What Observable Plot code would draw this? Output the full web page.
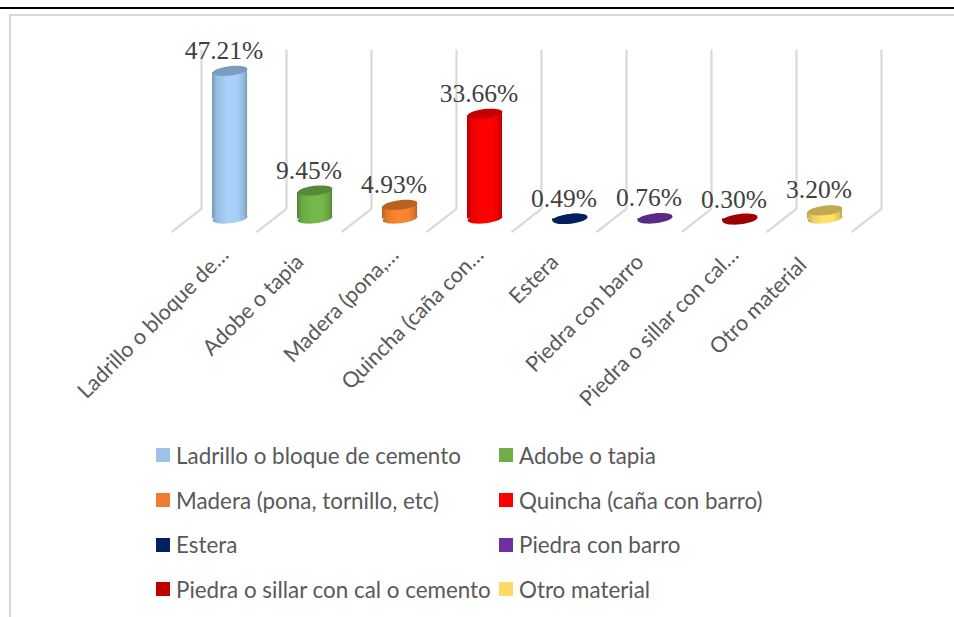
<!DOCTYPE html>
<html>
<head>
<meta charset="utf-8">
<script src="https://cdn.jsdelivr.net/npm/d3@7"></script>
<script src="https://cdn.jsdelivr.net/npm/@observablehq/plot@0.6"></script>
<style>
  html, body { margin: 0; padding: 0; background: #fff; width: 954px; height: 617px; overflow: hidden; }
  #page { position: relative; width: 954px; height: 617px; overflow: hidden; }
  #rule { position: absolute; left: 0; right: 0; top: 7px; height: 2px; background: #000; }
  #frame { position: absolute; left: 9px; top: 14px; width: 1000px; height: 700px; border: 2px solid #d9d9d9; box-sizing: border-box; }
  #chart { position: absolute; left: 0; top: 0; }
  #chart svg { display: block; background: transparent; }
  #legend { position: absolute; left: 156px; top: 433px; display: grid; grid-template-columns: 343px 343px; grid-auto-rows: 44.7px;
            font: 22.4px Lato, sans-serif; color: #595959; }
  .item { display: flex; align-items: center; white-space: nowrap; }
  .sw { width: 14px; height: 14px; margin-right: 6px; flex: none; }
</style>
</head>
<body>
<div id="page">
  <div id="rule"></div>
  <div id="frame"></div>
  <div id="chart"></div>
  <div id="legend"></div>
</div>
<script>
const categories = ["Ladrillo o bloque de cemento", "Adobe o tapia", "Madera (pona, tornillo, etc)", "Quincha (caña con barro)", "Estera", "Piedra con barro", "Piedra o sillar con cal o cemento", "Otro material"];
const axisLabels = ["Ladrillo o bloque de…", "Adobe o tapia", "Madera (pona,…", "Quincha (caña con…", "Estera", "Piedra con barro", "Piedra o sillar con cal…", "Otro material"];
const values = [47.21, 9.45, 4.93, 33.66, 0.49, 0.76, 0.30, 3.20];
const valueLabels = ["47.21%", "9.45%", "4.93%", "33.66%", "0.49%", "0.76%", "0.30%", "3.20%"];
const colors = ["#9dc3e6", "#70ad47", "#ed7d31", "#ff0000", "#002060", "#7030a0", "#c00000", "#ffd966"];
const sideBright = ["#a6d0f7", "#74b84a", "#fb842f", "#ff0000", "#002060", "#7030a0", "#c00000", "#ffe066"];
const topColors = ["#7b9cc0", "#568a38", "#b9611f", "#c40000", "#002060", "#592b87", "#9c0000", "#c2a94f"];

const halfWidth = 0.206;   // half a cylinder, in band units
const tilt = 0.63;         // tilt of the ellipses, in value units
const depthX = 0.176;      // wall offset from the band start
const depthY = 3.63;       // floor depth, in value units
const wallTop = 53.9;
const baseLift = 0.6;      // the cylinder foot sits slightly behind the floor centre

const rows = categories.map((c, i) => ({c, i, v: values[i], label: axisLabels[i], text: valueLabels[i], mid: i + 0.512, cut: axisLabels[i].endsWith("…")}));
const walls = d3.range(9).map(i => ({i}));

const bodies = rows.flatMap(d => [
  {c: d.c, g: `url(#g${d.i})`, x: d.mid - halfWidth, y1: baseLift - tilt * 0.2, y2: d.v - tilt},
  {c: d.c, g: `url(#g${d.i})`, x: d.mid + halfWidth, y1: baseLift + tilt * 0.2 + 0.4, y2: d.v + tilt}
]);

// tilted ellipse as a custom Plot symbol
const ellipse = {
  draw(ctx, size) {
    const r = Math.sqrt(size / Math.PI), ry = r * 0.27, a = -6.5 * Math.PI / 180, k = 0.5523;
    const p = (x, y) => [x * Math.cos(a) - y * Math.sin(a), x * Math.sin(a) + y * Math.cos(a)];
    ctx.moveTo(...p(r, 0));
    ctx.bezierCurveTo(...p(r, k * ry), ...p(k * r, ry), ...p(0, ry));
    ctx.bezierCurveTo(...p(-k * r, ry), ...p(-r, k * ry), ...p(-r, 0));
    ctx.bezierCurveTo(...p(-r, -k * ry), ...p(-k * r, -ry), ...p(0, -ry));
    ctx.bezierCurveTo(...p(k * r, -ry), ...p(r, -k * ry), ...p(r, 0));
    ctx.closePath();
  }
};

const gradients = () => {
  const defs = d3.create("svg:defs");
  sideBright.forEach((col, i) => {
    const g = defs.append("linearGradient").attr("id", `g${i}`).attr("x1", 0).attr("x2", 1).attr("y1", 0).attr("y2", 0);
    const dark = d3.color(col).darker(0.9).formatHex();
    [[0, dark], [0.14, d3.interpolateRgb(dark, col)(0.7)], [0.42, col], [0.72, col], [0.92, d3.interpolateRgb(dark, col)(0.55)], [1, dark]]
      .forEach(([o, c]) => g.append("stop").attr("offset", o).attr("stop-color", c));
  });
  return defs.node();
};

const labelFont = {rotate: -45, textAnchor: "end", lineAnchor: "middle", fontFamily: "Lato", fontSize: 21.6, fill: "#595959"};

const plot = Plot.plot({
  width: 954,
  height: 430,
  margin: 0,
  style: {background: "transparent", overflow: "visible"},
  x: {type: "linear", domain: [0, 8], range: [186, 866], axis: null},
  y: {type: "linear", domain: [0, 50], range: [220, 61.5], axis: null},
  color: {type: "identity"},
  marks: [
    gradients,
    Plot.link(walls, {x1: d => d.i + depthX, x2: d => d.i + depthX, y1: depthY, y2: wallTop, stroke: "#d9d9d9", strokeWidth: 2.2}),
    Plot.link(walls, {x1: d => d.i + depthX, x2: d => d.i - depthX, y1: depthY, y2: -depthY, stroke: "#d9d9d9", strokeWidth: 2.2}),
    Plot.dot(rows, {x: "mid", y: baseLift, r: 17.5, symbol: ellipse, fill: d => `url(#g${d.i})`, stroke: null}),
    Plot.areaY(bodies, {x: "x", y1: "y1", y2: "y2", z: "c", fill: "g", curve: "linear"}),
    Plot.dot(rows, {x: "mid", y: "v", r: 17.5, symbol: ellipse, fill: (d) => topColors[d.i], stroke: null}),
    Plot.text(rows, {x: "mid", y: "v", text: "text", dx: -6, dy: -12, lineAnchor: "bottom",
      fontFamily: "Liberation Serif", fontSize: 25.5, fill: "#404040"}),
    Plot.text(rows.filter(d => d.cut), {x: "mid", y: 0, text: "label", dx: -5, dy: 31, ...labelFont}),
    Plot.text(rows.filter(d => !d.cut && d.i !== 7), {x: "mid", y: 0, text: "label", dx: -15, dy: 38, ...labelFont}),
    Plot.text(rows.filter(d => d.i === 7), {x: "mid", y: 0, text: "label", dx: -22, dy: 41, ...labelFont})
  ]
});
document.getElementById("chart").appendChild(plot);

const legend = d3.select("#legend");
categories.forEach((c, i) => {
  const it = legend.append("div").attr("class", "item");
  it.append("span").attr("class", "sw").style("background", colors[i]);
  it.append("span").text(c);
});
</script>
</body>
</html>
